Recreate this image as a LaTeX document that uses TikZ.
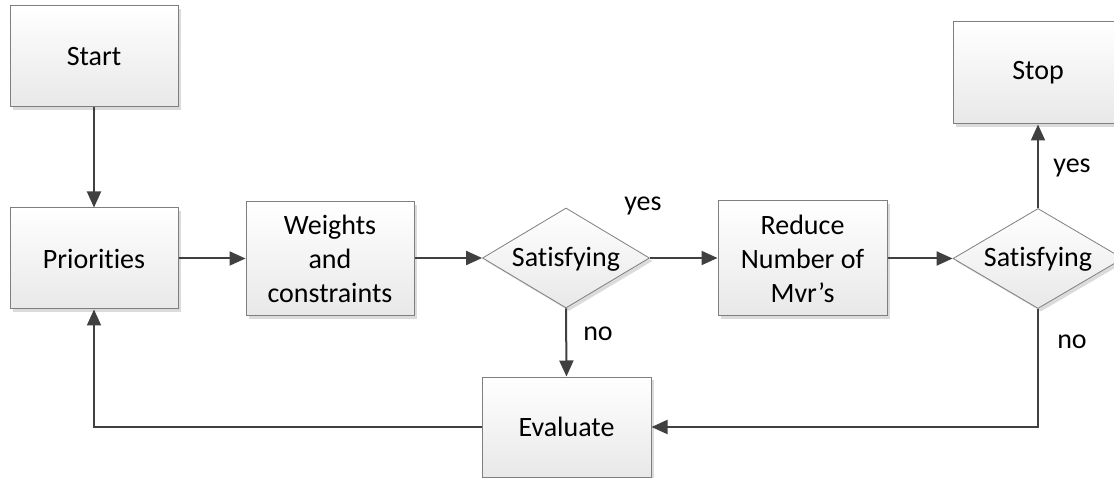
\documentclass[tikz,border=0pt]{standalone}
\usepackage{fontspec}
\setmainfont[Ligatures=NoCommon]{Carlito}
\usetikzlibrary{shapes.geometric,arrows.meta,shadows}
\definecolor{edgegray}{HTML}{7F7F7F}
\definecolor{arrowgray}{HTML}{404040}
\begin{document}
\begin{tikzpicture}[x=1pt,y=-1pt,
  every node/.style={font=\fontsize{28}{34}\selectfont, text=black},
  procbox/.style={draw=edgegray, line width=1pt, rectangle, inner sep=0pt, align=center,
    top color=white, bottom color=black!9,
    drop shadow={shadow xshift=3pt, shadow yshift=-3pt, fill=black!14, opacity=1}},
  decbox/.style={draw=edgegray, line width=0.8pt, diamond, aspect=1.67, inner sep=0pt,
    text height=20pt, text depth=3pt,
    top color=white, bottom color=black!9,
    drop shadow={shadow xshift=3pt, shadow yshift=-3pt, fill=black!14, opacity=1}},
  flow/.style={draw=arrowgray, line width=2pt, -{Triangle[length=16pt,width=14pt]}},
  lbl/.style={font=\fontsize{28}{34}\selectfont, inner sep=0pt}
]
\useasboundingbox (0,0) rectangle (1114,478);
\node[procbox, minimum width=168pt, minimum height=101pt] (start) at (94,56.5) {Start};
\node[procbox, minimum width=168pt, minimum height=101pt] (prio) at (94,258.5) {Priorities};
\node[procbox, minimum width=168pt, minimum height=114pt] (weights) at (330,259) {Weights\\and\\constraints};
\node[decbox, minimum width=167pt, minimum height=100pt] (d1) at (566,258) {Satisfying};
\node[procbox, minimum width=169pt, minimum height=115pt] (reduce) at (802.5,258.5) {Reduce\\Number of\\Mvr’s};
\node[decbox, minimum width=170pt, minimum height=100pt] (d2) at (1038,258.5) {Satisfying};
\node[procbox, minimum width=170pt, minimum height=102pt] (stop) at (1038,73) {Stop};
\node[procbox, minimum width=169pt, minimum height=100pt] (eval) at (566.5,427) {Evaluate};

\coordinate (c1) at (94,427);
\coordinate (c2) at (1038,427);

\draw[flow] (start.south) -- (prio.north);
\draw[flow] (prio.east) -- (weights.west |- prio.east);
\draw[flow] (weights.east |- d1.west) -- (d1.west);
\draw[flow] (d1.east) -- (reduce.west |- d1.east);
\draw[flow] (reduce.east |- d2.west) -- (d2.west);
\draw[flow] (d2.north) -- (stop.south);
\draw[flow] (d1.south) -- (eval.north);
\draw[flow] (eval.west) -- (c1) -- (prio.south);
\draw[flow] (d2.south) -- (c2) -- (eval.east);

\node[lbl] (yes1) at (643,206) {yes};
\node[lbl] (no1) at (598,334) {no};
\node[lbl] (yes2) at (1072,168) {yes};
\node[lbl] (no2) at (1072,342) {no};
\end{tikzpicture}
\end{document}
